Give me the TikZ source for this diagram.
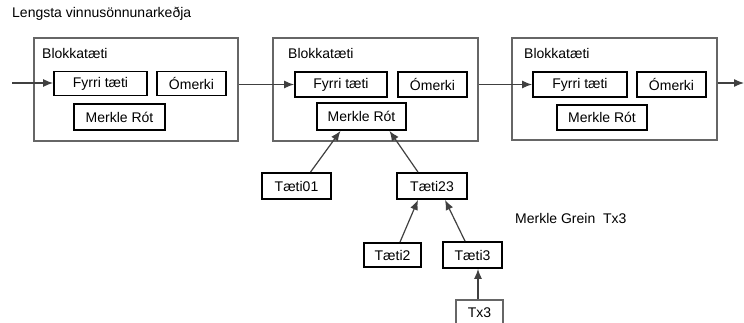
\documentclass[tikz,border=0pt]{standalone}
\usepackage{fontspec}
\setmainfont{Liberation Sans}
\usetikzlibrary{arrows.meta}
\begin{document}
\begin{tikzpicture}[x=1pt,y=-1pt]
\tikzstyle{every node}+=[inner sep=0pt,font=\fontsize{14}{16}\selectfont]
\tikzstyle{blk}=[draw=black!60,line width=1.2pt]
\tikzstyle{box}=[draw=black,line width=1.8pt]
\tikzstyle{arr}=[draw=black!75,line width=1.2pt,-{Latex[length=10pt,width=8pt]}]
\useasboundingbox (0,0) rectangle (744,323);
\node [anchor=west] (title) at (12,14) {Lengsta vinnusönnunarkeðja};
\node [blk,minimum width=204,minimum height=103] (b1) at (136,89.5) {};
\node [blk,minimum width=205,minimum height=103] (b2) at (375.5,89.5) {};
\node [blk,minimum width=205,minimum height=102] (b3) at (614.5,89) {};
\node [anchor=west] (l1) at (42,53) {Blokkatæti};
\node [anchor=west] (l2) at (288,53) {Blokkatæti};
\node [anchor=west] (l3) at (524,53) {Blokkatæti};
\node [box,minimum width=93,minimum height=24] (f1) at (100.5,83.5) {Fyrri tæti};
\node [box,minimum width=69,minimum height=24] (o1) at (191.5,83.5) {Ómerki};
\node [box,minimum width=91,minimum height=26] (m1) at (119.5,117) {Merkle Rót};
\node [box,minimum width=92,minimum height=25] (f2) at (341,84.5) {Fyrri tæti};
\node [box,minimum width=69,minimum height=25] (o2) at (432.5,84.5) {Ómerki};
\node [box,minimum width=89,minimum height=27] (m2) at (361.5,116.5) {Merkle Rót};
\node [box,minimum width=94,minimum height=25] (f3) at (580,84.5) {Fyrri tæti};
\node [box,minimum width=69,minimum height=25] (o3) at (671.5,84.5) {Ómerki};
\node [box,minimum width=90,minimum height=25] (m3) at (602,117.5) {Merkle Rót};
\node [box,minimum width=69,minimum height=26] (t01) at (296.5,186) {Tæti01};
\node [box,minimum width=70,minimum height=26] (t23) at (432,186) {Tæti23};
\node [box,minimum width=57,minimum height=24] (t2) at (392.5,255) {Tæti2};
\node [box,minimum width=59,minimum height=26] (t3) at (472.5,255) {Tæti3};
\node [draw=black!60,line width=1.2pt,minimum width=47,minimum height=25] (tx3) at (479.5,312.5) {Tx3};
\node [anchor=west] (grein) at (515,218) {Merkle Grein\ \ Tx3};
\coordinate (in) at (12,83);
\coordinate (out) at (744,83);
\draw [arr] (in) -- (in -| f1.west);
\draw [arr] (b1.east |- f2.west) -- (f2.west);
\draw [arr] (b2.east |- f3.west) -- (f3.west);
\draw [arr] (b3.east |- out) -- (out);
\draw [arr] ([xshift=14]t01.north) -- ([xshift=-21]m2.south);
\draw [arr] ([xshift=-14]t23.north) -- ([xshift=28]m2.south);
\draw [arr] ([xshift=7.5]t2.north) -- ([xshift=-14]t23.south);
\draw [arr] ([xshift=-7.5]t3.north) -- ([xshift=13]t23.south);
\draw [arr] ([xshift=-1.5]tx3.north) -- ([xshift=-1.5]tx3.north |- t3.south);
\end{tikzpicture}
\end{document}
